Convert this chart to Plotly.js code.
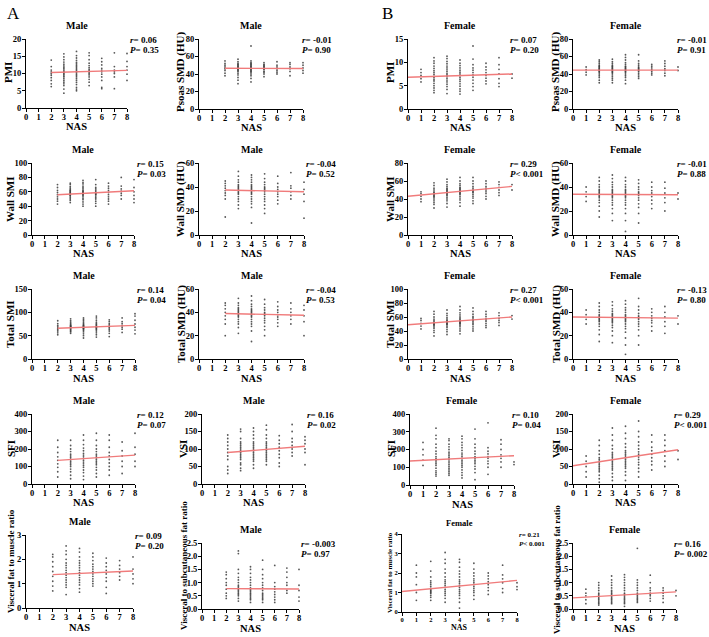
<!DOCTYPE html>
<html>
<head>
<meta charset="utf-8">
<script src="https://cdn.plot.ly/plotly-3.0.1.min.js"></script>
<style>
  html, body { margin: 0; padding: 0; background: #fff; }
  #chart { width: 709px; height: 637px; }
</style>
</head>
<body>
<div id="chart"></div>
<script>
// NAS categories per sex
const nasM = [2, 3, 4, 5, 6, 7, 8];
const nasF = [1, 2, 3, 4, 5, 6, 7, 8];
const fitXM = [2, 8];
const fitXF = [0, 8];

// ---- Male (one inner list per NAS value) ----
const malePMI = [
  [6.2, 7, 8, 8.8, 9.5, 10, 10.5, 11, 12, 13.9],
  [4.3, 5.5, 6.5, 7, 7.5, 8, 8.5, 9, 9.3, 9.7, 10, 10.3, 10.6, 11, 11.4, 11.8, 12.2, 12.7, 13.3, 14, 14.8, 15.7],
  [5, 5.5, 6, 6.8, 7.4, 8, 8.5, 9, 9.4, 9.8, 10.2, 10.5, 10.8, 11.2, 11.6, 12, 12.4, 12.8, 13.2, 13.8, 14.5, 15.2, 16.4],
  [6.5, 7.5, 8.3, 9, 9.6, 10, 10.4, 10.8, 11.2, 11.7, 12.3, 13, 14, 15.2, 16],
  [5.6, 6, 8, 9, 9.8, 10.5, 11, 11.5, 12.5, 13.4, 14.4],
  [5.6, 9, 10, 10.5, 11, 12, 16],
  [8, 9.8, 11, 12, 13.5, 15.8]
];
const malePsoasSMD = [
  [38, 41, 44, 46, 48, 50, 52, 55],
  [29, 33, 36, 39, 41, 43, 44, 45, 46, 47, 48, 49, 50, 51, 52, 54, 57],
  [31, 35, 38, 40, 42, 43, 44, 45, 46, 47, 48, 49, 50, 51, 52, 53, 55, 72],
  [37, 40, 42, 43, 45, 46, 47, 48, 49, 50, 51, 53],
  [40, 42, 44, 46, 48, 50, 54],
  [38, 43, 46, 48, 51, 53],
  [41, 44, 47, 50, 53]
];
const maleWallSMI = [
  [43, 47, 50, 53, 56, 59, 62, 66, 70],
  [45, 48, 50, 52, 54, 55, 56, 57, 58, 59, 60, 61, 62, 63, 65, 67, 70, 72],
  [40, 43, 46, 49, 51, 53, 55, 56, 57, 58, 59, 60, 61, 62, 64, 66, 68, 71, 73, 76],
  [40, 44, 47, 50, 52, 54, 56, 57, 58, 59, 60, 62, 64, 66, 70, 77],
  [43, 47, 50, 53, 56, 59, 62, 65, 68, 72],
  [50, 55, 58, 61, 64, 68, 80],
  [45, 50, 55, 60, 66, 77]
];
const maleWallSMD = [
  [15, 30, 33, 35, 37, 39, 41, 43, 45],
  [22, 25, 28, 30, 32, 34, 35, 36, 37, 38, 39, 40, 41, 42, 44, 46, 49, 53],
  [10, 23, 26, 28, 30, 32, 34, 35, 36, 37, 38, 39, 40, 41, 42, 44, 46, 48, 50],
  [18, 22, 25, 28, 30, 32, 34, 36, 37, 38, 39, 40, 42, 44, 47, 51],
  [26, 29, 32, 34, 36, 38, 40, 43, 49],
  [30, 33, 36, 39, 41, 52],
  [14, 28, 34, 38, 44]
];
const maleTotalSMI = [
  [52, 56, 60, 63, 66, 69, 72, 76, 82],
  [55, 58, 60, 62, 64, 66, 67, 68, 69, 70, 71, 72, 74, 76, 79, 82, 86],
  [45, 50, 54, 58, 61, 63, 65, 66, 67, 68, 69, 70, 71, 72, 74, 76, 79, 82, 85, 88],
  [47, 52, 56, 60, 63, 65, 67, 68, 69, 70, 72, 74, 76, 79, 83, 88, 92],
  [48, 55, 60, 64, 67, 70, 73, 76, 80, 84],
  [57, 64, 68, 72, 76, 80, 88],
  [54, 62, 68, 75, 83, 92, 97]
];
const maleTotalSMD = [
  [20, 30, 34, 37, 40, 43, 46, 48],
  [22, 27, 30, 32, 34, 36, 37, 38, 39, 40, 41, 42, 43, 44, 46, 48, 52],
  [15, 24, 28, 30, 32, 34, 36, 37, 38, 39, 40, 41, 42, 43, 45, 47, 50, 54],
  [20, 25, 28, 31, 33, 35, 37, 38, 39, 40, 42, 44, 47, 51],
  [28, 31, 34, 36, 38, 40, 42, 45, 49],
  [30, 34, 37, 40, 43, 48],
  [20, 32, 37, 42, 46]
];
const maleSFI = [
  [40, 70, 95, 115, 135, 155, 180, 210, 250],
  [30, 50, 70, 85, 100, 110, 120, 130, 140, 150, 160, 170, 185, 200, 220, 250],
  [25, 45, 65, 80, 95, 105, 115, 125, 135, 145, 155, 165, 175, 190, 205, 225, 250, 280],
  [40, 60, 80, 95, 110, 120, 130, 140, 150, 160, 170, 185, 200, 220, 250, 290],
  [50, 80, 100, 120, 140, 160, 180, 210, 250, 280],
  [60, 100, 130, 160, 190, 240],
  [100, 130, 170, 210, 290]
];
const maleVSI = [
  [30, 40, 50, 70, 80, 90, 100, 110, 120, 130, 140],
  [38, 45, 55, 60, 70, 75, 80, 85, 90, 95, 100, 105, 110, 115, 120, 130, 150, 157],
  [45, 55, 65, 70, 75, 80, 85, 90, 95, 100, 105, 110, 115, 120, 130, 140, 150, 160],
  [55, 65, 70, 75, 80, 85, 90, 95, 100, 105, 110, 115, 120, 130, 140, 155, 168],
  [50, 60, 75, 85, 95, 105, 115, 125, 138],
  [80, 90, 100, 110, 120, 130, 150, 170],
  [55, 90, 100, 115, 125, 135]
];
const maleVFMR = [
  [0.7, 0.9, 1.1, 1.3, 1.5, 1.7, 1.9, 2.1, 2.2],
  [0.55, 0.85, 0.95, 1.05, 1.15, 1.25, 1.35, 1.45, 1.55, 1.65, 1.75, 1.85, 2, 2.2, 2.35, 2.55],
  [0.65, 0.8, 0.95, 1.05, 1.15, 1.25, 1.35, 1.45, 1.55, 1.65, 1.75, 1.85, 1.95, 2.1, 2.3, 2.45],
  [0.9, 1.0, 1.1, 1.2, 1.3, 1.4, 1.5, 1.6, 1.7, 1.8, 1.95, 2.1, 2.25],
  [0.6, 0.85, 1.1, 1.25, 1.4, 1.55, 1.7, 1.85, 2.05],
  [1.15, 1.3, 1.45, 1.6, 1.75, 1.95],
  [1.0, 1.2, 1.4, 1.6, 2.1]
];
const maleVSR = [
  [0.4, 0.5, 0.6, 0.75, 0.9, 1.0, 1.15, 1.3, 1.4],
  [0.3, 0.4, 0.5, 0.55, 0.6, 0.65, 0.7, 0.75, 0.8, 0.85, 0.9, 1.0, 1.1, 1.2, 1.35, 1.5, 2.1, 2.2],
  [0.25, 0.35, 0.4, 0.45, 0.5, 0.55, 0.6, 0.65, 0.7, 0.75, 0.8, 0.9, 1.0, 1.1, 1.2, 1.35, 1.5, 1.6],
  [0.25, 0.35, 0.4, 0.45, 0.5, 0.55, 0.6, 0.7, 0.8, 0.9, 1.0, 1.15, 1.3, 1.5, 1.85],
  [0.25, 0.35, 0.45, 0.55, 0.65, 0.75, 0.85, 1.0, 1.65],
  [0.6, 0.7, 0.9, 1.0, 1.2, 1.4, 1.55],
  [0.3, 0.45, 0.7, 0.9, 1.5]
];

// ---- Female ----
const femalePMI = [
  [5.8, 6.5, 7.2, 7.8, 8.5],
  [3.5, 4, 4.5, 5, 5.5, 6, 6.3, 6.7, 7, 7.4, 7.8, 8.2, 8.7, 9.2, 9.8, 10.3, 11],
  [3.3, 4.2, 4.8, 5.3, 5.8, 6.2, 6.6, 7, 7.3, 7.6, 8, 8.4, 8.8, 9.2, 9.7, 10.2, 10.8, 11.3],
  [3.2, 3.8, 4.3, 4.9, 5.4, 5.9, 6.3, 6.7, 7.1, 7.5, 7.9, 8.3, 8.8, 9.3, 9.8, 10.5],
  [4, 4.8, 5.5, 6.2, 6.8, 7.3, 7.8, 8.3, 8.8, 9.5, 10.7, 13.5],
  [5.4, 6, 6.6, 7.2, 7.8, 8.4, 9, 9.8],
  [4.8, 5.5, 6.5, 7.5, 8.5, 9.5, 11],
  [6.6, 7.5]
];
const femalePsoasSMD = [
  [39, 42, 45, 48],
  [30, 33, 36, 38, 40, 42, 43, 44, 45, 46, 47, 48, 49, 50, 52, 54, 56],
  [30, 33, 35, 37, 39, 41, 42, 43, 44, 45, 46, 47, 48, 49, 50, 52, 54, 57],
  [29, 33, 36, 38, 40, 42, 43, 44, 45, 46, 47, 48, 49, 51, 53, 56, 59, 62],
  [35, 37, 39, 41, 43, 44, 45, 46, 47, 48, 50, 52, 55, 62],
  [39, 41, 43, 45, 47, 49, 51],
  [38, 41, 44, 46, 49, 52, 55],
  [44, 48]
];
const femaleWallSMI = [
  [37, 40, 43, 46, 48],
  [30, 34, 36, 38, 40, 42, 43, 44, 45, 46, 47, 48, 50, 52, 55, 58],
  [31, 35, 38, 40, 42, 44, 45, 46, 47, 48, 49, 50, 51, 52, 54, 56, 59, 62],
  [32, 36, 39, 41, 43, 45, 46, 47, 48, 49, 50, 51, 52, 53, 55, 57, 60, 64],
  [35, 38, 41, 43, 45, 47, 48, 49, 50, 52, 54, 57, 60, 64],
  [40, 43, 46, 48, 50, 52, 54, 57, 60],
  [44, 47, 50, 53, 56, 59],
  [50, 56]
];
const femaleWallSMD = [
  [28, 32, 36, 40],
  [15, 20, 24, 27, 29, 31, 32, 33, 34, 35, 36, 37, 38, 40, 42, 45, 48],
  [12, 18, 22, 25, 27, 29, 31, 32, 33, 34, 35, 36, 37, 38, 40, 42, 44, 47, 50],
  [3, 12, 18, 22, 25, 27, 29, 31, 32, 33, 34, 35, 36, 37, 38, 40, 42, 45, 48],
  [10, 18, 23, 26, 29, 31, 33, 34, 35, 36, 38, 40, 43, 46],
  [22, 26, 29, 32, 35, 37, 40, 44],
  [20, 27, 31, 35, 39, 44],
  [30, 35]
];
const femaleTotalSMI = [
  [43, 47, 51, 55, 58],
  [33, 38, 41, 44, 46, 48, 49, 50, 51, 52, 53, 55, 57, 60, 64, 68],
  [35, 39, 42, 45, 47, 49, 50, 51, 52, 53, 54, 55, 57, 59, 62, 65, 70],
  [36, 40, 43, 46, 48, 50, 51, 52, 53, 54, 55, 56, 58, 60, 63, 66, 70, 75],
  [40, 43, 46, 49, 51, 53, 55, 56, 57, 59, 61, 64, 68, 73],
  [45, 48, 51, 54, 56, 58, 61, 64, 68],
  [48, 52, 55, 58, 62, 66],
  [57, 62]
];
const femaleTotalSMD = [
  [30, 34, 38, 42],
  [15, 21, 25, 28, 30, 32, 33, 34, 35, 36, 37, 38, 40, 42, 45, 48],
  [14, 20, 24, 27, 29, 31, 32, 33, 34, 35, 36, 37, 38, 39, 41, 43, 46, 49],
  [4, 12, 18, 23, 26, 28, 30, 32, 33, 34, 35, 36, 37, 38, 40, 42, 44, 47, 50],
  [12, 20, 25, 28, 30, 32, 34, 35, 36, 37, 39, 42, 45, 52],
  [24, 28, 31, 33, 35, 37, 40, 43],
  [22, 28, 32, 36, 40, 45],
  [30, 37]
];
const femaleSFI = [
  [110, 140, 170, 200, 240],
  [50, 60, 70, 80, 95, 110, 120, 130, 140, 150, 160, 175, 190, 210, 230, 260, 280, 320],
  [55, 65, 75, 85, 95, 105, 115, 125, 135, 145, 155, 165, 175, 185, 200, 215, 230, 250, 260],
  [40, 55, 70, 85, 100, 110, 120, 130, 140, 150, 160, 170, 180, 195, 210, 225, 240, 260, 275],
  [30, 70, 90, 105, 120, 130, 140, 150, 160, 175, 190, 210, 230, 260, 315],
  [60, 100, 120, 135, 150, 160, 175, 190, 210, 350],
  [100, 130, 150, 170, 200, 230, 255],
  [115, 130]
];
const femaleVSI = [
  [20, 35, 50, 65, 80],
  [5, 15, 25, 35, 40, 45, 50, 55, 60, 65, 70, 75, 85, 95, 110, 125],
  [10, 20, 30, 40, 45, 50, 55, 60, 65, 70, 75, 80, 85, 90, 100, 110, 125, 140, 160],
  [10, 25, 35, 45, 50, 55, 60, 65, 70, 75, 80, 85, 90, 95, 105, 115, 130, 145, 165],
  [20, 35, 45, 55, 62, 70, 77, 85, 92, 100, 110, 120, 135, 150, 180],
  [40, 55, 65, 75, 85, 95, 105, 120, 140],
  [50, 65, 80, 95, 110, 125, 140],
  [70, 95]
];
const femaleVFMR = [
  [0.6, 1.0, 1.4, 1.8, 2.0, 2.4],
  [0.6, 0.75, 0.85, 0.95, 1.0, 1.05, 1.1, 1.15, 1.2, 1.3, 1.4, 1.5, 1.6, 1.8, 2.1, 2.6],
  [0.5, 0.7, 0.85, 0.95, 1.05, 1.15, 1.25, 1.35, 1.45, 1.55, 1.65, 1.8, 2.0, 2.2, 2.5, 2.7, 3.05],
  [0.2, 0.5, 0.7, 0.85, 0.95, 1.05, 1.15, 1.25, 1.35, 1.45, 1.55, 1.65, 1.8, 1.95, 2.1, 2.3, 2.55, 2.7],
  [0.65, 0.85, 1.0, 1.1, 1.2, 1.3, 1.4, 1.5, 1.6, 1.7, 1.85, 2.0, 2.2, 2.5],
  [0.9, 1.1, 1.25, 1.4, 1.55, 1.7, 1.85, 2.0],
  [1.0, 1.2, 1.5, 1.7, 1.9, 2.4],
  [1.15, 1.3, 1.5]
];
const femaleVSR = [
  [0.2, 0.35, 0.5, 0.6, 0.75],
  [0.15, 0.2, 0.25, 0.3, 0.35, 0.4, 0.45, 0.5, 0.55, 0.6, 0.7, 0.8, 0.9, 1.0],
  [0.2, 0.25, 0.3, 0.35, 0.4, 0.45, 0.5, 0.55, 0.6, 0.65, 0.7, 0.8, 0.9, 1.0, 1.1, 1.25],
  [0.1, 0.2, 0.25, 0.3, 0.35, 0.4, 0.45, 0.5, 0.55, 0.6, 0.7, 0.8, 0.9, 1.0, 1.1, 1.2, 1.3],
  [0.25, 0.3, 0.35, 0.4, 0.45, 0.5, 0.55, 0.6, 0.7, 0.8, 0.9, 1.0, 1.1, 2.3],
  [0.3, 0.4, 0.5, 0.55, 0.6, 0.7, 0.8, 1.0, 1.28],
  [0.25, 0.4, 0.5, 0.6, 0.7, 0.8],
  [0.5, 0.7]
];

// regression line endpoints (value at first / last fitX)
const fitLines = {
  malePMI: [10.3, 10.9], malePsoasSMD: [46.5, 46.3],
  maleWallSMI: [56, 61.5], maleWallSMD: [37.5, 36],
  maleTotalSMI: [66, 72], maleTotalSMD: [39, 37.5],
  maleSFI: [135, 165], maleVSI: [90, 108],
  maleVFMR: [1.37, 1.52], maleVSR: [0.77, 0.76],
  femalePMI: [6.8, 7.5], femalePsoasSMD: [44.4, 44.4],
  femaleWallSMI: [43, 54], femaleWallSMD: [34, 33.5],
  femaleTotalSMI: [49, 60], femaleTotalSMD: [36, 35],
  femaleSFI: [135, 165], femaleVSI: [52, 98],
  femaleVFMR: [1.05, 1.62], femaleVSR: [0.42, 0.65]
};

// panel = [data, name, yTitle, sex, r, P text, y max, dtick,
//          box px [x0, x1, yTop, yBottom], y-title [x, y, size], stats x offset]
const panels = [
  [malePMI, 'malePMI', 'PMI', 'Male', '0.06', '= 0.35', 20, 5, [26, 127, 39, 108], [8, 73, 11], 1],
  [malePsoasSMD, 'malePsoasSMD', 'Psoas SMD (HU)', 'Male', '-0.01', '= 0.90', 80, 20, [199, 303, 39, 109], [181, 72, 11], -3],
  [femalePMI, 'femalePMI', 'PMI', 'Female', '0.07', '= 0.20', 15, 5, [408, 512, 39, 109], [390, 73, 11], -4],
  [femalePsoasSMD, 'femalePsoasSMD', 'Psoas SMD (HU)', 'Female', '-0.01', '= 0.91', 80, 20, [573, 678, 39, 109], [556, 72, 11], -3],

  [maleWallSMI, 'maleWallSMI', 'Wall SMI', 'Male', '0.15', '= 0.03', 100, 20, [32, 134, 163, 235], [10, 199, 11], 1],
  [maleWallSMD, 'maleWallSMD', 'Wall SMD (HU)', 'Male', '-0.04', '= 0.52', 60, 20, [199, 304, 163, 235], [181, 199, 11], 0],
  [femaleWallSMI, 'femaleWallSMI', 'Wall SMI', 'Female', '0.29', '< 0.001', 80, 20, [408, 512, 163, 235], [390, 199, 11], -4],
  [femaleWallSMD, 'femaleWallSMD', 'Wall SMD (HU)', 'Female', '-0.01', '= 0.88', 60, 20, [573, 678, 163, 235], [556, 199, 11], -3],

  [maleTotalSMI, 'maleTotalSMI', 'Total SMI', 'Male', '0.14', '= 0.04', 150, 50, [32, 135, 289, 359], [10, 324, 11], 0],
  [maleTotalSMD, 'maleTotalSMD', 'Total SMD (HU)', 'Male', '-0.04', '= 0.53', 60, 20, [199, 304, 289, 359], [181, 324, 11], 0],
  [femaleTotalSMI, 'femaleTotalSMI', 'Total SMI', 'Female', '0.27', '< 0.001', 100, 20, [408, 512, 289, 359], [390, 324, 11], -4],
  [femaleTotalSMD, 'femaleTotalSMD', 'Total SMD (HU)', 'Female', '-0.13', '= 0.80', 60, 20, [573, 678, 289, 359], [556, 324, 11], -3],

  [maleSFI, 'maleSFI', 'SFI', 'Male', '0.12', '= 0.07', 400, 100, [32, 135, 414, 484], [11, 449, 11], 0],
  [maleVSI, 'maleVSI', 'VSI', 'Male', '0.16', '= 0.02', 200, 50, [202, 305, 414, 484], [183, 449, 11], 0],
  [femaleSFI, 'femaleSFI', 'SFI', 'Female', '0.10', '= 0.04', 400, 100, [410, 514, 414, 485], [391, 449, 11], -4],
  [femaleVSI, 'femaleVSI', 'VSI', 'Female', '0.29', '< 0.001', 200, 50, [573, 678, 414, 484], [556, 449, 11], -6],

  [maleVFMR, 'maleVFMR', 'Visceral fat to muscle ratio', 'Male', '0.09', '= 0.20', 3, 1, [26, 133, 535, 608], [11, 561, 9], 0],
  [maleVSR, 'maleVSR', 'Visceral to subcutaneous fat ratio', 'Male', '-0.003', '= 0.97', 2.5, 0.5, [202, 299, 543, 609], [184, 566, 9], 0],
  [femaleVFMR, 'femaleVFMR', 'Visceral fat to muscle ratio', 'Female', '0.21', '< 0.001', 4, 1, [402, 517, 534, 612], [390, 573, 7], 0],
  [femaleVSR, 'femaleVSR', 'Visceral to subcutaneous fat ratio', 'Female', '0.16', '= 0.002', 2.5, 0.5, [573, 676, 543, 609], [557, 570, 9], -4]
];

const W = 709, H = 637;
const FONT = 'Liberation Serif, Times New Roman, serif';
const px = x => x / W;
const py = y => 1 - y / H;
const traces = [];
const layout = {
  width: W, height: H,
  margin: { t: 0, r: 0, b: 0, l: 0 },
  paper_bgcolor: '#fff', plot_bgcolor: '#fff',
  showlegend: false,
  font: { family: FONT, color: '#000' },
  annotations: [
    { text: 'A', x: px(5), y: py(2), xref: 'paper', yref: 'paper', xanchor: 'left', yanchor: 'top', showarrow: false, font: { size: 17, family: FONT } },
    { text: 'B', x: px(380), y: py(2), xref: 'paper', yref: 'paper', xanchor: 'left', yanchor: 'top', showarrow: false, font: { size: 17, family: FONT } }
  ]
};

function note(text, x, y, size, extra) {
  layout.annotations.push({
    text, x: px(x), y: py(y), xref: 'paper', yref: 'paper', showarrow: false,
    xanchor: 'center', yanchor: 'middle',
    font: { family: FONT, size, weight: 'bold', color: '#000' }, ...extra
  });
}

panels.forEach((p, i) => {
  const [data, name, yTitle, sex, r, pTxt, ymax, dtick, box, yt, sx] = p;
  const [x0, x1, yT, yB] = box;
  const n = i + 1;
  const xa = n === 1 ? 'x' : 'x' + n, ya = n === 1 ? 'y' : 'y' + n;
  const nas = sex === 'Male' ? nasM : nasF;
  const fitX = sex === 'Male' ? fitXM : fitXF;
  const small = name === 'femaleVFMR';
  const tickSize = small ? 6.5 : 8.5;

  const xs = [], ys = [];
  data.forEach((col, k) => col.forEach(v => { xs.push(nas[k]); ys.push(v); }));

  traces.push({
    type: 'scatter', mode: 'markers', x: xs, y: ys, xaxis: xa, yaxis: ya,
    marker: { color: '#3a3a3a', size: 1.8, opacity: 0.85 }, cliponaxis: false, hoverinfo: 'skip'
  });
  traces.push({
    type: 'scatter', mode: 'lines', x: fitX, y: fitLines[name], xaxis: xa, yaxis: ya,
    line: { color: '#f07b7b', width: 1.4 }, cliponaxis: false, hoverinfo: 'skip'
  });

  const axBase = {
    showline: true, linecolor: '#000', linewidth: 1, ticks: 'outside', ticklen: 3, tickwidth: 1,
    tickcolor: '#000', showgrid: false, zeroline: false,
    tickfont: { family: FONT, size: tickSize, weight: 'bold' }
  };
  layout['xaxis' + (n === 1 ? '' : n)] = {
    ...axBase, anchor: ya, domain: [px(x0), px(x1)], range: [0, 8], dtick: 1, tick0: 0,
    ticklabelstandoff: -2
  };
  layout['yaxis' + (n === 1 ? '' : n)] = {
    ...axBase, anchor: xa, domain: [py(yB), py(yT)], range: [0, ymax], dtick: dtick, tick0: 0,
    tickformat: dtick < 1 ? '.1f' : '', ticklabelstandoff: -1
  };

  const cx = (x0 + x1) / 2;
  // sex title, x title, y title
  note(sex, cx, yT - (small ? 11 : 14), small ? 8.5 : 10);
  note('NAS', cx, yB + (small ? 15 : 19), small ? 8 : 10.5);
  note(yTitle, yt[0], yt[1], yt[2], { textangle: -90 });
  // stats
  const ss = small ? 7 : 9;
  note('<i>r</i>= ' + r, x1 + sx, yT + 1, ss, { xanchor: 'left' });
  note('<i>P</i>' + pTxt, x1 + sx, yT + (small ? 10 : 11), ss, { xanchor: 'left' });
});

Plotly.newPlot('chart', traces, layout, { displayModeBar: false, staticPlot: true });
</script>
</body>
</html>
